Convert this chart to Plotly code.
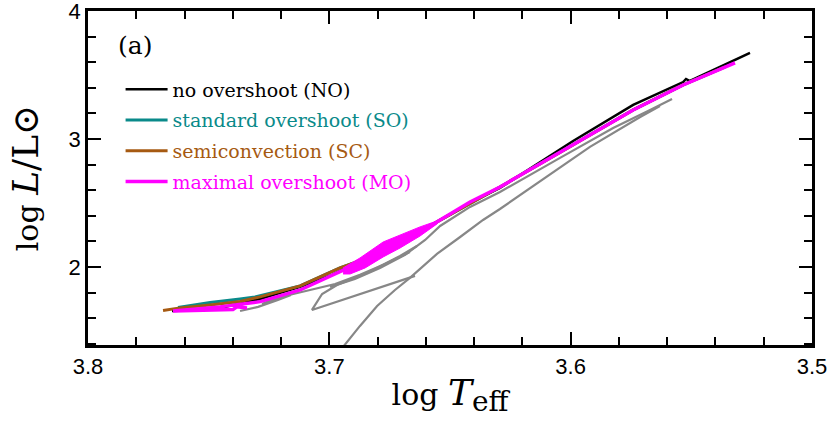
import plotly.graph_objects as go

# ---------------- data (log Teff, log L/Lsun) ----------------
no_teff = [3.7652, 3.7536, 3.7453, 3.7287, 3.7121, 3.6989, 3.6914, 3.6790, 3.6554, 3.6417,
           3.6293, 3.5990, 3.5741, 3.5534, 3.5522, 3.5506, 3.5257]
no_logl = [1.656, 1.664, 1.680, 1.750, 1.844, 1.938, 2.008, 2.133, 2.352, 2.500,
           2.617, 2.984, 3.266, 3.445, 3.469, 3.453, 3.672]

so_teff = [3.7627, 3.7494, 3.7370, 3.7308, 3.7121, 3.6956, 3.6748, 3.6554, 3.6293, 3.5990,
           3.5741, 3.5534, 3.5360]
so_logl = [1.684, 1.723, 1.750, 1.766, 1.852, 1.992, 2.133, 2.352, 2.625, 2.953,
           3.227, 3.422, 3.563]

sc_teff = [3.7689, 3.7619, 3.7494, 3.7370, 3.7287, 3.7121, 3.6956, 3.6748, 3.6554, 3.6293,
           3.5990, 3.5741, 3.5534, 3.5360]
sc_logl = [1.660, 1.680, 1.703, 1.730, 1.766, 1.852, 1.992, 2.133, 2.352, 2.625,
           2.953, 3.227, 3.422, 3.563]

mo_teff = [3.7341, 3.7383, 3.7399, 3.7494, 3.7648, 3.7453, 3.7287, 3.7121, 3.6956, 3.6748,
           3.6554, 3.6417, 3.6293, 3.5990, 3.5741, 3.5534, 3.5319]
mo_logl = [1.680, 1.688, 1.668, 1.664, 1.656, 1.688, 1.729, 1.820, 1.963, 2.133,
           2.352, 2.508, 2.625, 2.953, 3.227, 3.422, 3.594]

# blue-loop band of the MO track (back-and-forth excursions)
mo_loop_teff = [3.6943, 3.6873, 3.6777, 3.6707, 3.6624, 3.6554, 3.6554, 3.6624, 3.6707,
                3.6777, 3.6852, 3.6914, 3.6943]
mo_loop_logl = [1.992, 2.070, 2.195, 2.250, 2.313, 2.359, 2.336, 2.242, 2.148,
                2.078, 1.992, 1.945, 1.945]

# grey comparison tracks
grey_a_teff = [3.6943, 3.6873, 3.6802, 3.6728, 3.6666, 3.6554, 3.6458, 3.6363, 3.6293,
               3.6139, 3.5920, 3.5712, 3.5630]
grey_a_logl = [1.375, 1.539, 1.695, 1.820, 1.914, 2.102, 2.234, 2.367, 2.453,
               2.656, 2.938, 3.172, 3.258]

grey_b_teff = [3.6997, 3.6894, 3.6790, 3.6686, 3.6603, 3.6541, 3.6417, 3.6293, 3.6044,
               3.5824, 3.5671, 3.5580]
grey_b_logl = [1.844, 1.906, 1.992, 2.094, 2.211, 2.320, 2.469, 2.586, 2.852,
               3.086, 3.227, 3.313]

grey_c_teff = [3.6645, 3.6844, 3.6985, 3.7072, 3.7030, 3.6968, 3.6844, 3.6707, 3.6637]
grey_c_logl = [1.930, 1.805, 1.719, 1.664, 1.789, 1.859, 1.953, 2.086, 2.164]

grey_d_teff = [3.7370, 3.7295, 3.7213, 3.7159, 3.7221, 3.7279, 3.7184, 3.7080, 3.6976,
               3.6873, 3.6769, 3.6666]
grey_d_logl = [1.656, 1.688, 1.742, 1.781, 1.758, 1.711, 1.773, 1.820, 1.867,
               1.938, 2.023, 2.117]

names = ["no overshoot (NO)", "standard overshoot (SO)", "semiconvection (SC)",
         "maximal overshoot (MO)"]
colors = ["#000000", "#0a8a8a", "#a65a12", "#ff00ff"]

x_ticks = [3.8, 3.7, 3.6, 3.5]
y_ticks = [2, 3, 4]

# ---------------- figure ----------------
fig = go.Figure()
GREY = "#878787"
for gx, gy in [(grey_a_teff, grey_a_logl), (grey_b_teff, grey_b_logl),
               (grey_c_teff, grey_c_logl), (grey_d_teff, grey_d_logl)]:
    fig.add_trace(go.Scatter(x=gx, y=gy, mode="lines", showlegend=False,
                             line=dict(color=GREY, width=2.2), hoverinfo="skip"))

series = [(no_teff, no_logl), (so_teff, so_logl), (sc_teff, sc_logl), (mo_teff, mo_logl)]
widths = [2.5, 3, 3, 3.5]
for i, ((sx, sy), nm, col, w) in enumerate(zip(series, names, colors, widths)):
    fig.add_trace(go.Scatter(
        x=sx, y=sy, mode="lines", legendgroup=f"g{i}",
        name=f"<span style='color:{col}'>{nm}</span>",
        line=dict(color=col, width=w)))

fig.add_trace(go.Scatter(x=mo_loop_teff, y=mo_loop_logl, mode="lines", fill="toself",
                         fillcolor="#ff00ff", line=dict(color="#ff00ff", width=1),
                         showlegend=False, hoverinfo="skip"))

axis_common = dict(
    showline=True, linewidth=2.5, linecolor="black", mirror="ticks",
    ticks="inside", ticklen=13, tickwidth=2, tickcolor="black",
    showgrid=False, zeroline=False, automargin=False, ticklabeloverflow="allow",
    tickfont=dict(family="Liberation Sans, Arial, sans-serif", size=22, color="black"),
)

fig.update_xaxes(
    range=[3.8, 3.5], tickvals=x_ticks, ticktext=[f"{v:.1f}" for v in x_ticks],
    minor=dict(dtick=0.02, tick0=3.5, ticks="inside", ticklen=8, tickwidth=2, tickcolor="black"),
    title=dict(text="log <span style='font-size:36px'><i>T</i></span>"
                    "<sub><span style='font-size:28px'>eff</span></sub>",
               font=dict(family="DejaVu Serif, serif", size=30, color="black"), standoff=6),
    **axis_common)
fig.update_yaxes(
    range=[1.39, 4.0], tickvals=y_ticks, ticktext=[str(v) for v in y_ticks],
    minor=dict(dtick=0.2, tick0=0, ticks="inside", ticklen=8, tickwidth=2, tickcolor="black"),
    title=dict(text="log <span style='font-size:36px'><i>L</i>/L⊙</span>",
               font=dict(family="DejaVu Serif, serif", size=30, color="black"), standoff=22),
    **axis_common)

fig.add_annotation(text="(a)", xref="paper", yref="paper", x=0.039, y=0.897,
                   xanchor="left", yanchor="middle", showarrow=False,
                   font=dict(family="DejaVu Serif, serif", size=25, color="black"))

fig.update_layout(
    width=830, height=426,
    margin=dict(l=88, r=18, t=11, b=81, autoexpand=False),
    paper_bgcolor="white", plot_bgcolor="white",
    showlegend=True,
    legend=dict(x=0.045, y=0.822, xanchor="left", yanchor="top",
                bgcolor="rgba(0,0,0,0)", borderwidth=0, itemwidth=42,
                font=dict(family="DejaVu Serif, serif", size=19, color="black"),
                tracegroupgap=3),
)

fig.write_html("out.html", config={"displayModeBar": False},
               post_script="document.body.style.margin='0px';")
